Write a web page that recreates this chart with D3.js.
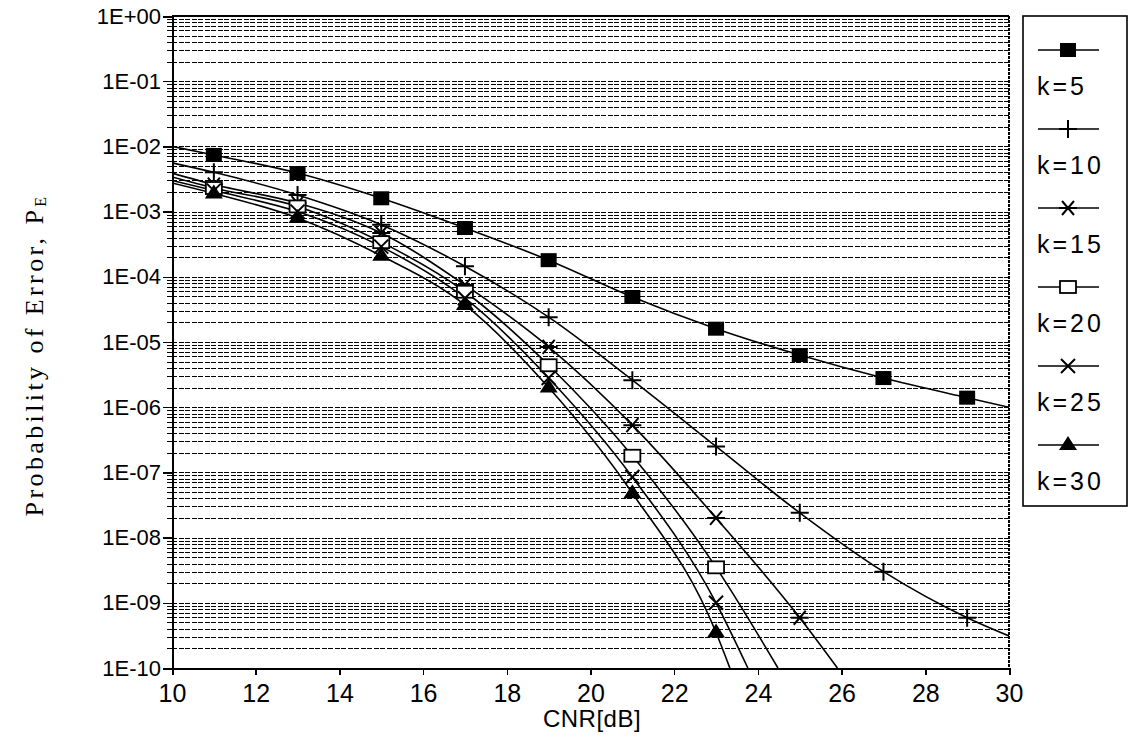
<!DOCTYPE html>
<html>
<head>
<meta charset="utf-8">
<script src="https://cdn.jsdelivr.net/npm/d3@7"></script>
<style>
  html, body { margin: 0; padding: 0; background: #fff; }
  svg { display: block; }
</style>
</head>
<body>
<svg id="chart" width="1130" height="750"></svg>
<script>
// ---------- data ----------
const xTicks = [10, 12, 14, 16, 18, 20, 22, 24, 26, 28, 30];
const yTickLabels = ["1E+00","1E-01","1E-02","1E-03","1E-04","1E-05","1E-06","1E-07","1E-08","1E-09","1E-10"];
const seriesNames = ["k=5", "k=10", "k=15", "k=20", "k=25", "k=30"];
const markerTypes = ["fsquare", "plus", "star", "osquare", "cross", "triangle"];

// line start values at CNR = 10 dB
const startCNR = 10;
const startValues = [1.0e-2, 5.6e-3, 3.9e-3, 3.4e-3, 3.0e-3, 2.75e-3];

// marker positions (CNR odd dB)
const markerCNR = [11, 13, 15, 17, 19, 21, 23, 25, 27, 29];
const k5  = [7.4e-3, 3.9e-3, 1.6e-3, 5.6e-4, 1.8e-4, 4.9e-5, 1.6e-5, 6.3e-6, 2.8e-6, 1.4e-6];
const k10 = [4.0e-3, 1.8e-3, 6.3e-4, 1.45e-4, 2.4e-5, 2.6e-6, 2.5e-7, 2.4e-8, 3.0e-9, 5.9e-10];
const k15 = [2.6e-3, 1.35e-3, 4.7e-4, 7.5e-5, 8.4e-6, 5.3e-7, 2.0e-8, 5.9e-10];
const k20 = [2.3e-3, 1.2e-3, 3.4e-4, 5.9e-5, 4.4e-6, 1.8e-7, 3.5e-9];
const k25 = [2.1e-3, 1.0e-3, 2.9e-4, 4.7e-5, 2.8e-6, 8.5e-8, 1.0e-9];
const k30 = [1.9e-3, 8.0e-4, 2.1e-4, 3.7e-5, 2.0e-6, 4.8e-8, 3.5e-10];

// line end points [CNR, value]
const endPoints = [[30, 1.0e-6], [30, 3.1e-10], [25.9, 1e-10], [24.48, 1e-10], [23.76, 1e-10], [23.33, 1e-10]];

const seriesValues = [k5, k10, k15, k20, k25, k30];

// ---------- layout ----------
const svg = d3.select("#chart");
const x = d3.scaleLinear().domain([10, 30]).range([172, 1009]);
const y = d3.scaleLog().domain([1e-10, 1]).range([668, 16]);

// grid lines (every 1..9 x 10^n)
const gridVals = [];
for (let e = -10; e < 0; e++) for (let m = 1; m <= 9; m++) {
  const v = m * Math.pow(10, e);
  if (e === -10 && m === 1) continue;
  gridVals.push(v);
}
svg.append("g").attr("shape-rendering", "crispEdges").selectAll("line").data(gridVals).join("line")
  .attr("x1", x(10)).attr("x2", x(30))
  .attr("y1", d => Math.round(y(d)) + 0.5).attr("y2", d => Math.round(y(d)) + 0.5)
  .attr("stroke", "#000").attr("stroke-width", 1.6)
  .attr("stroke-dasharray", "5,1.5");

// frame
svg.append("line").attr("x1", x(10)).attr("x2", x(30)).attr("y1", y(1)).attr("y2", y(1))
  .attr("stroke", "#000").attr("stroke-width", 2).attr("shape-rendering", "crispEdges");
svg.append("line").attr("x1", x(30)).attr("x2", x(30)).attr("y1", y(1)).attr("y2", y(1e-10))
  .attr("stroke", "#000").attr("stroke-width", 1.5).attr("stroke-dasharray", "3,1")
  .attr("shape-rendering", "crispEdges");

// axes
const xAxis = d3.axisBottom(x).tickValues(xTicks).tickSize(7).tickFormat(d3.format("d"));
const gx = svg.append("g").attr("transform", `translate(0,${y(1e-10)})`).call(xAxis);
gx.attr("shape-rendering", "crispEdges");
gx.select(".domain").attr("stroke-width", 2);
gx.selectAll(".tick line").attr("stroke-width", 1.5);
gx.selectAll("text").attr("font-family", "Liberation Sans, Arial, sans-serif")
  .attr("font-size", 25).attr("fill", "#000").attr("dy", "0.95em");

const majorVals = d3.range(0, 11).map(i => Math.pow(10, -i));
const yAxis = d3.axisLeft(y).tickValues(majorVals).tickSize(9)
  .tickFormat((d, i) => yTickLabels[i]);
const gy = svg.append("g").attr("transform", `translate(${x(10)},0)`).call(yAxis);
gy.attr("shape-rendering", "crispEdges");
gy.select(".domain").attr("stroke-width", 2);
gy.selectAll(".tick line").attr("stroke-width", 1.5);
gy.selectAll("text").attr("font-family", "Liberation Sans, Arial, sans-serif")
  .attr("font-size", 22).attr("fill", "#000").attr("x", -11);
// minor ticks
svg.append("g").attr("shape-rendering", "crispEdges")
  .selectAll("line").data(gridVals.filter(v => Math.abs(Math.log10(v) - Math.round(Math.log10(v))) > 1e-6))
  .join("line")
  .attr("x1", x(10) - 5).attr("x2", x(10))
  .attr("y1", d => Math.round(y(d)) + 0.5).attr("y2", d => Math.round(y(d)) + 0.5)
  .attr("stroke", "#000").attr("stroke-width", 1.3);

// curves
svg.append("clipPath").attr("id", "plotclip").append("rect")
  .attr("x", x(10)).attr("y", y(1)).attr("width", x(30) - x(10)).attr("height", y(1e-10) - y(1) + 1);

const line = d3.line().x(d => x(d[0])).y(d => y(d[1])).curve(d3.curveMonotoneX);
const gLines = svg.append("g").attr("clip-path", "url(#plotclip)");
seriesValues.forEach((vals, i) => {
  const pts = [[startCNR, startValues[i]]].concat(vals.map((v, j) => [markerCNR[j], v])).concat([endPoints[i]]);
  gLines.append("path").datum(pts).attr("d", line)
    .attr("fill", "none").attr("stroke", "#000").attr("stroke-width", 1.6);
});

// markers
function drawMarker(g, type, cx, cy) {
  const s = 7;
  if (type === "fsquare") {
    g.append("rect").attr("x", cx - 8).attr("y", cy - 7).attr("width", 16).attr("height", 14).attr("fill", "#000");
  } else if (type === "plus") {
    g.append("path").attr("d", `M${cx - 9},${cy}H${cx + 9}M${cx},${cy - 9}V${cy + 9}`)
      .attr("stroke", "#000").attr("stroke-width", 2);
  } else if (type === "star") {
    g.append("path").attr("d", `M${cx - 9},${cy}H${cx + 9}M${cx - 6},${cy - 7}L${cx + 6},${cy + 7}M${cx - 6},${cy + 7}L${cx + 6},${cy - 7}`)
      .attr("stroke", "#000").attr("stroke-width", 2);
  } else if (type === "osquare") {
    g.append("rect").attr("x", cx - 8).attr("y", cy - 6).attr("width", 16).attr("height", 12)
      .attr("fill", "#fff").attr("stroke", "#000").attr("stroke-width", 1.8);
  } else if (type === "cross") {
    g.append("path").attr("d", `M${cx - s},${cy - s}L${cx + s},${cy + s}M${cx - s},${cy + s}L${cx + s},${cy - s}`)
      .attr("stroke", "#000").attr("stroke-width", 2);
  } else if (type === "triangle") {
    g.append("path").attr("d", `M${cx},${cy - 9}L${cx + 9},${cy + 5}L${cx - 9},${cy + 5}Z`).attr("fill", "#000");
  }
}
const gMarks = svg.append("g");
seriesValues.forEach((vals, i) => {
  vals.forEach((v, j) => drawMarker(gMarks, markerTypes[i], x(markerCNR[j]), y(v)));
});

// axis titles
svg.append("text").attr("x", 592).attr("y", 727).attr("text-anchor", "middle")
  .attr("font-family", "Liberation Sans, Arial, sans-serif").attr("font-size", 24)
  .attr("letter-spacing", "0.5px")
  .text("CNR[dB]");

const yt = svg.append("text").attr("transform", "translate(43,355) rotate(-90)")
  .attr("text-anchor", "middle")
  .attr("font-family", "Liberation Serif, Times New Roman, serif").attr("font-size", 26)
  .attr("letter-spacing", "3.4px");
yt.append("tspan").text("Probability of Error, P");
yt.append("tspan").attr("font-size", 16).attr("dy", 3).text("E");

// legend
const lg = svg.append("g");
lg.append("rect").attr("x", 1023).attr("y", 16).attr("width", 104).attr("height", 490)
  .attr("fill", "#fff").attr("stroke", "#000").attr("stroke-width", 1.6);
seriesNames.forEach((name, i) => {
  const ly = 50 + i * 79;
  lg.append("line").attr("x1", 1038).attr("x2", 1099).attr("y1", ly).attr("y2", ly)
    .attr("stroke", "#000").attr("stroke-width", 1.5);
  drawMarker(lg, markerTypes[i], 1068, ly);
  lg.append("text").attr("x", 1037).attr("y", ly + 45)
    .attr("font-family", "Liberation Sans, Arial, sans-serif").attr("font-size", 25)
    .attr("letter-spacing", "3px").text(name);
});
</script>
</body>
</html>
